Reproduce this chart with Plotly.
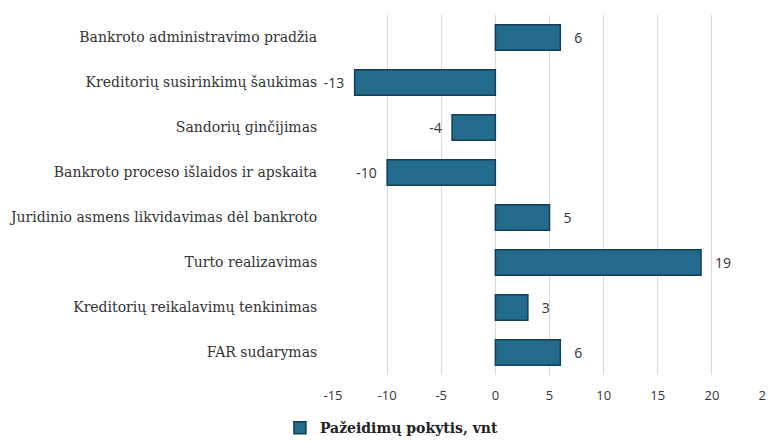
import plotly.graph_objects as go

# Kategorijos ir pokyčiai (iš viršaus į apačią)
categories = [
    "Bankroto administravimo pradžia",
    "Kreditorių susirinkimų šaukimas",
    "Sandorių ginčijimas",
    "Bankroto proceso išlaidos ir apskaita",
    "Juridinio asmens likvidavimas dėl bankroto",
    "Turto realizavimas",
    "Kreditorių reikalavimų tenkinimas",
    "FAR sudarymas",
]
values = [6, -13, -4, -10, 5, 19, 3, 6]
series_name = "Pažeidimų pokytis, vnt"
x_ticks = [-15, -10, -5, 0, 5, 10, 15, 20, 25]

# tarpai, kad skaičiai atsitrauktų nuo stulpelio galo
labels = [("   " + str(v)) if v >= 0 else (str(v) + "  ") for v in values]

fig = go.Figure()
fig.add_trace(go.Bar(
    name=series_name,
    y=categories,
    x=values,
    orientation="h",
    marker=dict(color="#226b8c", line=dict(color="#133f55", width=1.5)),
    text=labels,
    textposition="outside",
    textfont=dict(family="Open Sans", size=14, color="#333333"),
    cliponaxis=False,
))

# puslapio body turi 8px paraštę, todėl figūra mažesnė
fig.update_layout(
    width=766, height=434,
    margin=dict(l=325, r=8, t=7, b=67),
    paper_bgcolor="white", plot_bgcolor="white",
    bargap=0.43,
    showlegend=True,
    legend=dict(
        orientation="h", xref="container", x=0.355, xanchor="left",
        yref="container", y=0.032, yanchor="middle",
        font=dict(family="DejaVu Serif", size=14, color="#222222", weight="bold"),
        itemwidth=30,
    ),
    xaxis=dict(
        range=[-15, 25], tickvals=x_ticks, ticktext=[str(t) for t in x_ticks],
        showgrid=True, gridcolor="#d9d9d9", gridwidth=1,
        zeroline=False, showline=False, automargin=False,
        tickfont=dict(family="Open Sans", size=13, color="#333333"),
        ticks="outside", ticklen=8, tickcolor="rgba(0,0,0,0)",
    ),
    yaxis=dict(
        categoryorder="array", categoryarray=categories[::-1],
        showgrid=False, zeroline=False, showline=False, automargin=False,
        tickfont=dict(family="DejaVu Serif", size=14, color="#333333"),
        ticks="outside", ticklen=12, tickcolor="rgba(0,0,0,0)",
    ),
)

fig.write_html("out.html")
